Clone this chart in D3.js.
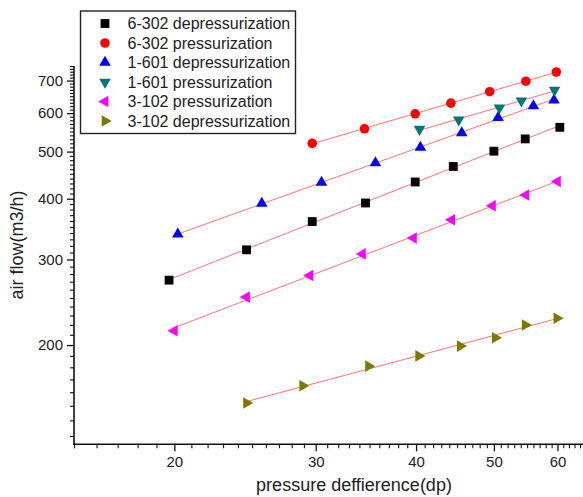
<!DOCTYPE html>
<html>
<head>
<meta charset="utf-8">
<script src="https://cdn.jsdelivr.net/npm/d3@7"></script>
<style>
  body { margin: 0; background: #fff; }
  svg { display: block; font-family: "Liberation Sans", Arial, sans-serif; }
</style>
</head>
<body>
<svg id="chart" width="583" height="497"></svg>
<script>
// ---- data ----
const seriesNames = ["6-302 depressurization", "6-302 pressurization", "1-601 depressurization",
                     "1-601 pressurization", "3-102 pressurization", "3-102 depressurization"];
const dp6302Dep = [19.7, 24.6, 29.7, 34.6, 39.9, 44.5, 50.0, 54.7, 60.4];
const q6302Dep  = [272, 314, 359, 392, 433, 466, 501, 531, 561];
const dp6302Pre = [29.7, 34.5, 39.9, 44.2, 49.4, 54.8, 59.8];
const q6302Pre  = [520, 557, 598, 629, 664, 698, 729];
const dp1601Dep = [20.2, 25.7, 30.5, 35.6, 40.5, 45.6, 50.6, 56.0, 59.4];
const q1601Dep  = [338, 391, 432, 474, 510, 546, 587, 621, 638];
const dp1601Pre = [40.4, 45.2, 50.8, 54.1, 59.5];
const q1601Pre  = [556, 581, 615, 636, 669];
const dp3102Pre = [20.0, 24.6, 29.5, 34.3, 39.7, 44.3, 49.8, 54.8, 60.0];
const q3102Pre  = [214, 251, 278, 308, 332, 362, 387, 407, 434];
const dp3102Dep = [24.6, 28.9, 34.9, 40.3, 45.4, 50.2, 54.7, 59.9];
const q3102Dep  = [152, 165, 181, 190, 199, 207, 220, 227];
const xTickValues = [20, 30, 40, 50, 60];
const yTickValues = [200, 300, 400, 500, 600, 700];
const xDomain = [15, 65];
const yDomain = [125, 750];

const seriesX = [dp6302Dep, dp6302Pre, dp1601Dep, dp1601Pre, dp3102Pre, dp3102Dep];
const seriesY = [q6302Dep, q6302Pre, q1601Dep, q1601Pre, q3102Pre, q3102Dep];
const colors = ["#000000", "#ff0000", "#0000ff", "#007777", "#ff00ff", "#7a7a00"];
const shapes = [
  {type: d3.symbolSquare, size: 78, rot: 0},
  {type: d3.symbolCircle, size: 72, rot: 0},
  {type: d3.symbolTriangle, size: 58, rot: 0},
  {type: d3.symbolTriangle, size: 58, rot: 180},
  {type: d3.symbolTriangle, size: 58, rot: -90},
  {type: d3.symbolTriangle, size: 58, rot: 90}
];

const svg = d3.select("#chart");
svg.append("rect").attr("width", 583).attr("height", 497).attr("fill", "#fff");

const x = d3.scaleLog().domain(xDomain).range([74, 585.4]);
const y = d3.scaleLog().domain(yDomain).range([444.3, 66]);

// minor ticks
const xMinor = d3.range(15, 66, 1).filter(v => !xTickValues.includes(v));
const yMinor = d3.range(130, 751, 10).filter(v => !yTickValues.includes(v));

const gx = svg.append("g").attr("transform", "translate(0,444.3)");
gx.call(d3.axisBottom(x).tickValues(xMinor).tickSize(4).tickFormat(""));
gx.select(".domain").remove();
gx.selectAll("line").attr("stroke", "#111").attr("stroke-width", 1.1);
const gx2 = svg.append("g").attr("transform", "translate(0,444.3)");
gx2.call(d3.axisBottom(x).tickValues(xTickValues).tickSize(7).tickPadding(5).tickFormat(d3.format("d")));
gx2.select(".domain").remove();
gx2.selectAll("line").attr("stroke", "#111").attr("stroke-width", 1.3);
gx2.selectAll("text").attr("font-size", 15).attr("fill", "#222")
   .attr("font-family", "'Liberation Sans', Arial, sans-serif");

const gy = svg.append("g").attr("transform", "translate(74,0)");
gy.call(d3.axisLeft(y).tickValues(yMinor).tickSize(4).tickFormat(""));
gy.select(".domain").remove();
gy.selectAll("line").attr("stroke", "#111").attr("stroke-width", 1.1);
const gy2 = svg.append("g").attr("transform", "translate(74,0)");
gy2.call(d3.axisLeft(y).tickValues(yTickValues).tickSize(7).tickPadding(4).tickFormat(d3.format("d")));
gy2.select(".domain").remove();
gy2.selectAll("line").attr("stroke", "#111").attr("stroke-width", 1.3);
gy2.selectAll("text").attr("font-size", 15).attr("fill", "#222")
   .attr("font-family", "'Liberation Sans', Arial, sans-serif");

// axis lines
svg.append("line").attr("x1", 74).attr("x2", 74).attr("y1", y(yDomain[1])).attr("y2", 445)
   .attr("stroke", "#111").attr("stroke-width", 1.6);
svg.append("line").attr("x1", 73.2).attr("x2", 585).attr("y1", 444.3).attr("y2", 444.3)
   .attr("stroke", "#111").attr("stroke-width", 1.6);

// axis titles
svg.append("text").attr("x", 354).attr("y", 491).attr("text-anchor", "middle")
   .attr("font-size", 18).attr("fill", "#222").text("pressure deffierence(dp)");
svg.append("text").attr("transform", "translate(23,245) rotate(-90)").attr("text-anchor", "middle")
   .attr("font-size", 18).attr("fill", "#222").text("air flow(m3/h)");

// fit lines (least squares in log-log space)
seriesX.forEach((xs, i) => {
  const ys = seriesY[i];
  const lx = xs.map(Math.log10), ly = ys.map(Math.log10);
  const mx = d3.mean(lx), my = d3.mean(ly);
  const b = d3.sum(lx.map((v, k) => (v - mx) * (ly[k] - my))) / d3.sum(lx.map(v => (v - mx) ** 2));
  const a = my - b * mx;
  const x0 = d3.min(xs), x1 = d3.max(xs);
  const f = v => Math.pow(10, a + b * Math.log10(v));
  svg.append("line")
    .attr("x1", x(x0)).attr("y1", y(f(x0)))
    .attr("x2", x(x1)).attr("y2", y(f(x1)))
    .attr("stroke", "#ff5a5a").attr("stroke-width", 1).attr("opacity", 0.85);
});

// markers
seriesX.forEach((xs, i) => {
  const ys = seriesY[i];
  const sym = d3.symbol().type(shapes[i].type).size(shapes[i].size);
  svg.append("g").selectAll("path").data(xs.map((v, k) => [v, ys[k]])).join("path")
    .attr("d", sym)
    .attr("transform", d => `translate(${x(d[0])},${y(d[1])}) rotate(${shapes[i].rot})`)
    .attr("fill", colors[i]);
});

// legend
const lg = svg.append("g");
lg.append("rect").attr("x", 80.5).attr("y", 11).attr("width", 215).attr("height", 122.5)
  .attr("fill", "#fff").attr("stroke", "#222").attr("stroke-width", 1.4);
seriesNames.forEach((name, i) => {
  const cy = 23.5 + i * 19.5;
  const sym = d3.symbol().type(shapes[i].type).size(shapes[i].size);
  lg.append("path").attr("d", sym)
    .attr("transform", `translate(105,${cy}) rotate(${shapes[i].rot})`)
    .attr("fill", colors[i]);
  lg.append("text").attr("x", 127.5).attr("y", cy).attr("dy", "0.35em")
    .attr("font-size", 16).attr("fill", "#222").text(name);
});
</script>
</body>
</html>
